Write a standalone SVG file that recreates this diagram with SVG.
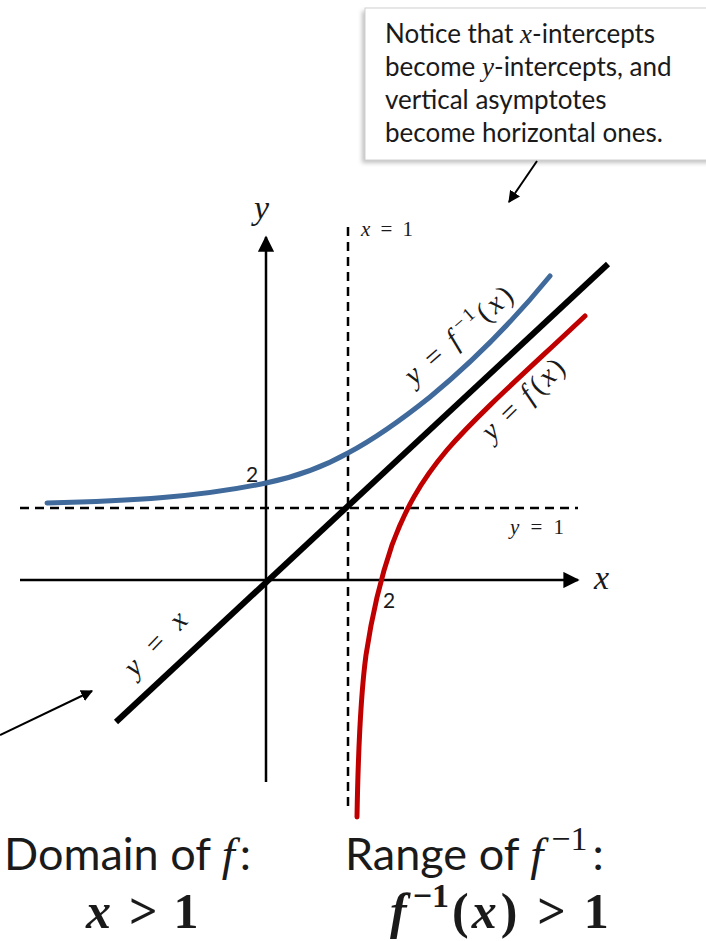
<svg xmlns="http://www.w3.org/2000/svg" width="706" height="941" viewBox="0 0 706 941">
<defs>
  <marker id="ah" viewBox="0 0 10 10" refX="9" refY="5" markerWidth="6" markerHeight="6" markerUnits="strokeWidth" orient="auto">
    <path d="M0,0 L10,5 L0,10 z" fill="#000"/>
  </marker>
  <marker id="axh" viewBox="0 0 10 10" refX="9" refY="5" markerWidth="6.5" markerHeight="6.5" markerUnits="strokeWidth" orient="auto">
    <path d="M0,0 L10,5 L0,10 z" fill="#000"/>
  </marker>
  <filter id="sh" x="-10%" y="-10%" width="120%" height="130%">
    <feGaussianBlur stdDeviation="2"/>
  </filter>
</defs>
<style>
  .sans { font-family: Lato, "Open Sans", "Liberation Sans", sans-serif; fill: #1a1a1a; }
  .math { font-family: "Liberation Serif", "DejaVu Serif", serif; font-style: italic; fill: #1a1a1a; }
  .mathr { font-family: "Liberation Serif", "DejaVu Serif", serif; font-style: normal; fill: #1a1a1a; }
  .axis { stroke: #000; stroke-width: 2.5; fill: none; }
  .dash { stroke: #000; stroke-width: 2.5; stroke-dasharray: 9 6; fill: none; }
  .conn { stroke: #000; stroke-width: 2; fill: none; }
</style>

<g id="note">
  <rect x="362" y="11" width="348" height="152" fill="#9a9a9a" opacity="0.6" filter="url(#sh)"/>
  <rect x="365" y="8" width="345" height="152" fill="#fff" stroke="#d0d0d0" stroke-width="1"/>
  <text class="sans" font-size="26" x="385" y="43">Notice that <tspan class="math" font-size="27">x</tspan>-intercepts</text>
  <text class="sans" font-size="26" x="385" y="76">become <tspan class="math" font-size="27">y</tspan>-intercepts, and</text>
  <text class="sans" font-size="26" x="385" y="109">vertical asymptotes</text>
  <text class="sans" font-size="26" x="385" y="142">become horizontal ones.</text>
</g>

<g id="axes">
  <line class="axis" x1="266" y1="782" x2="266" y2="237" marker-end="url(#axh)"/>
  <line class="axis" x1="20" y1="580" x2="578" y2="580" marker-end="url(#axh)"/>
  <text class="math" font-size="34" x="254" y="219">y</text>
  <text class="math" font-size="34" x="594" y="589">x</text>
</g>

<g id="asymptotes">
  <line class="dash" x1="348" y1="227" x2="348" y2="808"/>
  <line class="dash" x1="20" y1="508" x2="578" y2="508"/>
  <text class="math" font-size="21" x="361" y="236" textLength="52" lengthAdjust="spacing">x <tspan class="mathr">= 1</tspan></text>
  <text class="math" font-size="21" x="510" y="534" textLength="54" lengthAdjust="spacing">y <tspan class="mathr">= 1</tspan></text>
</g>

<g id="line-yx">
  <line x1="116" y1="722" x2="608" y2="264" stroke="#000" stroke-width="6"/>
  <text class="math" font-size="29" transform="translate(135,678) rotate(-46)" textLength="78" lengthAdjust="spacing">y <tspan class="mathr">=</tspan> x</text>
</g>

<g id="curve-finv">
  <path d="M47,503 C130,501 200,497 266,483 C300,476 325,466 348,453 C380,436 405,417 430,397 C470,364 510,325 550,276" fill="none" stroke="#3f6a9b" stroke-width="5" stroke-linecap="round"/>
  <text class="math" font-size="29" transform="translate(414,386) rotate(-41)" textLength="134" lengthAdjust="spacing">y <tspan class="mathr">=</tspan> f<tspan font-size="19" dx="3" dy="-12" class="mathr">−1</tspan><tspan dy="12" class="mathr">(</tspan>x<tspan class="mathr">)</tspan></text>
  <text class="sans" font-size="21" x="246" y="482">2</text>
</g>

<g id="curve-f">
  <path d="M357,817 C358,760 360,700 366,655 C372,615 380,580 392,545 C405,510 420,482 447,450 C480,412 530,368 585,316" fill="none" stroke="#c00000" stroke-width="5" stroke-linecap="round"/>
  <text class="math" font-size="29" transform="translate(492,442) rotate(-44)" textLength="104" lengthAdjust="spacing">y <tspan class="mathr">=</tspan> f<tspan class="mathr" dx="2">(</tspan>x<tspan class="mathr">)</tspan></text>
  <text class="sans" font-size="21" x="383" y="608">2</text>
</g>

<g id="connectors">
  <line class="conn" x1="537" y1="161" x2="509" y2="202" marker-end="url(#ah)"/>
  <line class="conn" x1="0" y1="735" x2="92" y2="691" marker-end="url(#ah)"/>
</g>

<g id="domain">
  <text class="sans" font-size="45" x="4" y="870">Domain of <tspan class="math" font-size="47">f</tspan><tspan dx="5">:</tspan></text>
  <text class="math" font-size="50" font-weight="bold" x="86" y="928">x<tspan class="mathr" dx="18">&gt;</tspan><tspan class="mathr" dx="16">1</tspan></text>
</g>

<g id="range">
  <text class="sans" font-size="45" x="345" y="870">Range of <tspan class="math" font-size="47">f</tspan><tspan font-size="34" dx="8" dy="-20" class="mathr">−1</tspan><tspan dy="20" dx="5">:</tspan></text>
  <text class="math" font-size="50" font-weight="bold" x="390" y="928">f<tspan font-size="34" dx="6" dy="-21" class="mathr">−1</tspan><tspan dy="21" dx="3" class="mathr">(</tspan><tspan dx="3">x</tspan><tspan class="mathr" dx="4">)</tspan><tspan class="mathr" dx="20">&gt;</tspan><tspan class="mathr" dx="18">1</tspan></text>
</g>
</svg>
